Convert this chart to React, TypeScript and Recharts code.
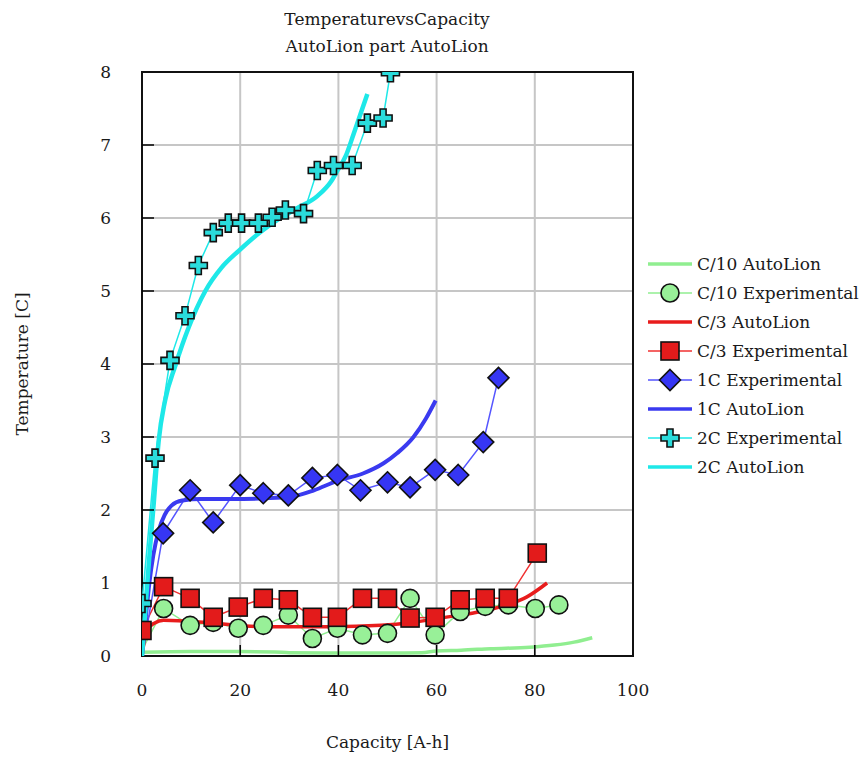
import React from 'react';
import { ComposedChart, Line, XAxis, YAxis, CartesianGrid, ReferenceArea, Legend, Label } from 'recharts';

const FONT = "'DejaVu Serif', 'Liberation Serif', serif";
const TEXT = '#1a1a1a';

const xTicks = [0, 20, 40, 60, 80, 100];
const yTicks = [0, 1, 2, 3, 4, 5, 6, 7, 8];

// C/10
const c10ModelX = [0, 10, 20, 27, 30, 40, 50, 57, 60, 65, 71, 79, 84, 88, 91.7];
const c10ModelY = [0.05, 0.06, 0.06, 0.055, 0.045, 0.04, 0.04, 0.045, 0.07, 0.08, 0.1, 0.12, 0.15, 0.19, 0.25];
const c10ExpX = [0, 4.4, 9.8, 14.5, 19.6, 24.7, 29.8, 34.7, 39.8, 44.9, 50.0, 54.6, 59.7, 64.8, 69.9, 74.6, 80.1, 84.9];
const c10ExpY = [0.08, 0.65, 0.42, 0.46, 0.38, 0.42, 0.56, 0.24, 0.38, 0.29, 0.31, 0.79, 0.29, 0.61, 0.68, 0.7, 0.65, 0.7];

// C/3
const c3ModelX = [0, 0.6, 1.3, 2.5, 4.4, 14.5, 24.7, 38.5, 48.7, 55, 60.7, 67.5, 74.3, 78.4, 82.5];
const c3ModelY = [0, 0.25, 0.38, 0.45, 0.49, 0.45, 0.4, 0.4, 0.42, 0.46, 0.52, 0.59, 0.7, 0.81, 1.0];
const c3ExpX = [0, 4.4, 9.8, 14.5, 19.6, 24.7, 29.8, 34.7, 39.8, 44.9, 50.0, 54.6, 59.7, 64.8, 69.9, 74.6, 80.5];
const c3ExpY = [0.35, 0.95, 0.79, 0.53, 0.67, 0.79, 0.77, 0.53, 0.53, 0.79, 0.79, 0.52, 0.53, 0.77, 0.79, 0.79, 1.41];

// 1C
const c1ExpX = [0, 4.3, 9.8, 14.5, 20.0, 24.7, 29.8, 34.7, 39.8, 44.5, 50.0, 54.6, 59.7, 64.4, 69.5, 72.6];
const c1ExpY = [0, 1.68, 2.27, 1.83, 2.34, 2.23, 2.2, 2.44, 2.48, 2.27, 2.38, 2.31, 2.55, 2.48, 2.93, 3.81];
const c1ModelX = [0, 0.8, 1.5, 2.3, 3.4, 4.6, 6, 8.2, 12, 18, 25, 30.2, 35, 39.8, 45, 49.2, 52, 55.3, 57.8, 59.8];
const c1ModelY = [0, 0.55, 1.0, 1.38, 1.72, 1.93, 2.06, 2.13, 2.15, 2.15, 2.16, 2.18, 2.27, 2.4, 2.5, 2.64, 2.78, 3.0, 3.25, 3.5];

// 2C
const c2ExpX = [0, 2.65, 5.7, 8.76, 11.47, 14.52, 17.57, 20.28, 23.7, 26.5, 29.2, 32.9, 35.7, 39.0, 42.8, 45.9, 49.1, 50.6];
const c2ExpY = [0.72, 2.71, 4.05, 4.66, 5.35, 5.8, 5.93, 5.93, 5.93, 6.01, 6.11, 6.06, 6.65, 6.72, 6.72, 7.3, 7.37, 7.99];
const c2ModelX = [0, 0.8, 1.6, 2.4, 3.4, 4.7, 6.8, 9.5, 12.9, 16.2, 19.7, 23.8, 27.5, 31.5, 35.7, 38.5, 39.8, 41.5, 43.1, 45.9];
const c2ModelY = [0, 0.75, 1.45, 2.1, 2.95, 3.5, 3.98, 4.5, 5.0, 5.32, 5.55, 5.79, 5.97, 6.13, 6.3, 6.5, 6.65, 6.85, 7.15, 7.7];

const zip = (xs: number[], ys: number[]) => xs.map((x, i) => ({ x, y: ys[i] }));

type Shape = 'circle' | 'square' | 'diamond' | 'plus' | null;

const GREEN = '#90ee90';
const RED = '#e81c1c';
const BLUE = '#3a3af0';
const CYAN = '#1ee8e8';

// layout constants
const W = 864;
const H = 757;
const MARGIN = { top: 72, right: 231, bottom: 0, left: 0 };
const Y_AXIS_W = 142;
const X_AXIS_H = 101;
const PLOT = {
  x: MARGIN.left + Y_AXIS_W,
  y: MARGIN.top,
  w: W - MARGIN.left - MARGIN.right - Y_AXIS_W,
  h: H - MARGIN.top - MARGIN.bottom - X_AXIS_H,
};

const series: {
  name: string; data: { x: number; y: number }[]; color: string; width: number;
  shape: Shape; fill?: string; smooth: boolean; hideFirst?: boolean;
}[] = [
  { name: 'C/10 AutoLion', data: zip(c10ModelX, c10ModelY), color: GREEN, width: 3.5, shape: null, smooth: true },
  { name: 'C/10 Experimental', data: zip(c10ExpX, c10ExpY), color: GREEN, width: 1.5, shape: 'circle', fill: '#98f098', smooth: false, hideFirst: true },
  { name: 'C/3 AutoLion', data: zip(c3ModelX, c3ModelY), color: RED, width: 3.5, shape: null, smooth: true },
  { name: 'C/3 Experimental', data: zip(c3ExpX, c3ExpY), color: '#f03030', width: 1.5, shape: 'square', fill: '#e31b1b', smooth: false },
  { name: '1C Experimental', data: zip(c1ExpX, c1ExpY), color: '#5555ff', width: 1.5, shape: 'diamond', fill: '#3636f4', smooth: false, hideFirst: true },
  { name: '1C AutoLion', data: zip(c1ModelX, c1ModelY), color: BLUE, width: 4, shape: null, smooth: true },
  { name: '2C Experimental', data: zip(c2ExpX, c2ExpY), color: CYAN, width: 1.5, shape: 'plus', fill: '#2adcdc', smooth: false },
  { name: '2C AutoLion', data: zip(c2ModelX, c2ModelY), color: CYAN, width: 4.5, shape: null, smooth: true },
];

function Marker({ shape, cx, cy, fill }: { shape: Shape; cx: number; cy: number; fill: string }) {
  const st = { fill, stroke: '#111', strokeWidth: 1.6 };
  if (shape === 'circle') return <circle cx={cx} cy={cy} r={9} {...st} />;
  if (shape === 'square') return <rect x={cx - 9} y={cy - 9} width={18} height={18} {...st} />;
  if (shape === 'diamond') {
    const r = 10.5;
    return <polygon points={`${cx},${cy - r} ${cx + r},${cy} ${cx},${cy + r} ${cx - r},${cy}`} {...st} />;
  }
  if (shape === 'plus') {
    const a = 9, w = 3;
    const pts = [
      [cx - w, cy - a], [cx + w, cy - a], [cx + w, cy - w], [cx + a, cy - w], [cx + a, cy + w], [cx + w, cy + w],
      [cx + w, cy + a], [cx - w, cy + a], [cx - w, cy + w], [cx - a, cy + w], [cx - a, cy - w], [cx - w, cy - w],
    ].map((p) => p.join(',')).join(' ');
    return <polygon points={pts} {...st} />;
  }
  return null;
}

// Markers are clipped to the plot area by a nested svg viewport
const makeDot = (s: typeof series[number], si: number) => (props: any) => {
  const { cx, cy, index } = props;
  if (cx == null || cy == null || (s.hideFirst && index === 0)) return <g key={`d-${si}-${index}`} />;
  return (
    <svg
      key={`d-${si}-${index}`}
      x={PLOT.x} y={PLOT.y} width={PLOT.w} height={PLOT.h} overflow="hidden"
    >
      <Marker shape={s.shape} cx={cx - PLOT.x} cy={cy - PLOT.y} fill={s.fill || s.color} />
    </svg>
  );
};

const XTick = (props: any) => {
  const { x, y, payload } = props;
  return (
    <g>
      {payload.value !== 0 && payload.value !== 100 && (
        <line x1={x} x2={x} y1={y} y2={y - 11} stroke="#000" strokeWidth={1.5} />
      )}
      <text x={x} y={y + 34} textAnchor="middle" dominantBaseline="central" fontFamily={FONT} fontSize={17} fill={TEXT}>
        {payload.value}
      </text>
    </g>
  );
};

const YTick = (props: any) => {
  const { x, y, payload } = props;
  return (
    <g>
      {payload.value !== 0 && payload.value !== 8 && (
        <line x1={x} x2={x + 12} y1={y} y2={y} stroke="#000" strokeWidth={1.5} />
      )}
      <text x={x - 31} y={y} textAnchor="end" dominantBaseline="central" fontFamily={FONT} fontSize={17} fill={TEXT}>
        {payload.value}
      </text>
    </g>
  );
};

const LegendContent = () => (
  <div style={{ fontFamily: FONT, fontSize: 17, color: TEXT }}>
    {series.map((s) => (
      <div key={s.name} style={{ display: 'flex', alignItems: 'center', height: 29 }}>
        <svg width={50} height={24} style={{ display: 'block' }}>
          <line x1={3} x2={47} y1={12} y2={12} stroke={s.color} strokeWidth={s.shape ? 1.5 : 3.5} />
          {s.shape && <Marker shape={s.shape} cx={25} cy={12} fill={s.fill || s.color} />}
        </svg>
        <span style={{ marginLeft: 2, whiteSpace: 'nowrap' }}>{s.name}</span>
      </div>
    ))}
  </div>
);

export default function App() {
  return (
    <div style={{ position: 'absolute', left: 0, top: 0, width: W, height: H, background: '#fff' }}>
      <div
        style={{
          position: 'absolute', left: 187, top: 6, width: 400, textAlign: 'center',
          fontFamily: FONT, fontSize: 17, lineHeight: '27px', color: TEXT,
        }}
      >
        <div>TemperaturevsCapacity</div>
        <div>AutoLion part AutoLion</div>
      </div>
      <ComposedChart width={W} height={H} margin={MARGIN}>
        <CartesianGrid stroke="#c6c6c6" strokeWidth={2} />
        <XAxis
          type="number" dataKey="x" domain={[0, 100]} ticks={xTicks} allowDataOverflow
          axisLine={false} tickLine={false} tickSize={0} tickMargin={0} height={X_AXIS_H} tick={<XTick />}
          interval={0}
        >
          <Label
            content={() => (
              <text x={PLOT.x + PLOT.w / 2} y={742} textAnchor="middle" dominantBaseline="central" fontFamily={FONT} fontSize={17} fill={TEXT}>
                Capacity [A-h]
              </text>
            )}
          />
        </XAxis>
        <YAxis
          type="number" domain={[0, 8]} ticks={yTicks} allowDataOverflow
          axisLine={false} tickLine={false} tickSize={0} tickMargin={0} width={Y_AXIS_W} tick={<YTick />}
          interval={0}
        >
          <Label
            content={() => (
              <text
                x={22} y={PLOT.y + PLOT.h / 2} textAnchor="middle" dominantBaseline="central" fontFamily={FONT} fontSize={17}
                fill={TEXT} transform={`rotate(-90 22 ${PLOT.y + PLOT.h / 2})`}
              >
                Temperature [C]
              </text>
            )}
          />
        </YAxis>
        <ReferenceArea x1={0} x2={100} y1={0} y2={8} fill="none" stroke="#111" strokeWidth={2} />
        {series.map((s, si) => (
          <Line
            key={s.name}
            data={s.data}
            dataKey="y"
            name={s.name}
            type={s.smooth ? 'monotone' : 'linear'}
            stroke={s.color}
            strokeWidth={s.width}
            dot={s.shape ? makeDot(s, si) : false}
            activeDot={false}
            isAnimationActive={false}
            legendType="line"
          />
        ))}
        <Legend
          layout="vertical" align="center" verticalAlign="middle" content={<LegendContent />}
          wrapperStyle={{ left: 645, top: 249, width: 219 }}
        />
      </ComposedChart>
    </div>
  );
}
